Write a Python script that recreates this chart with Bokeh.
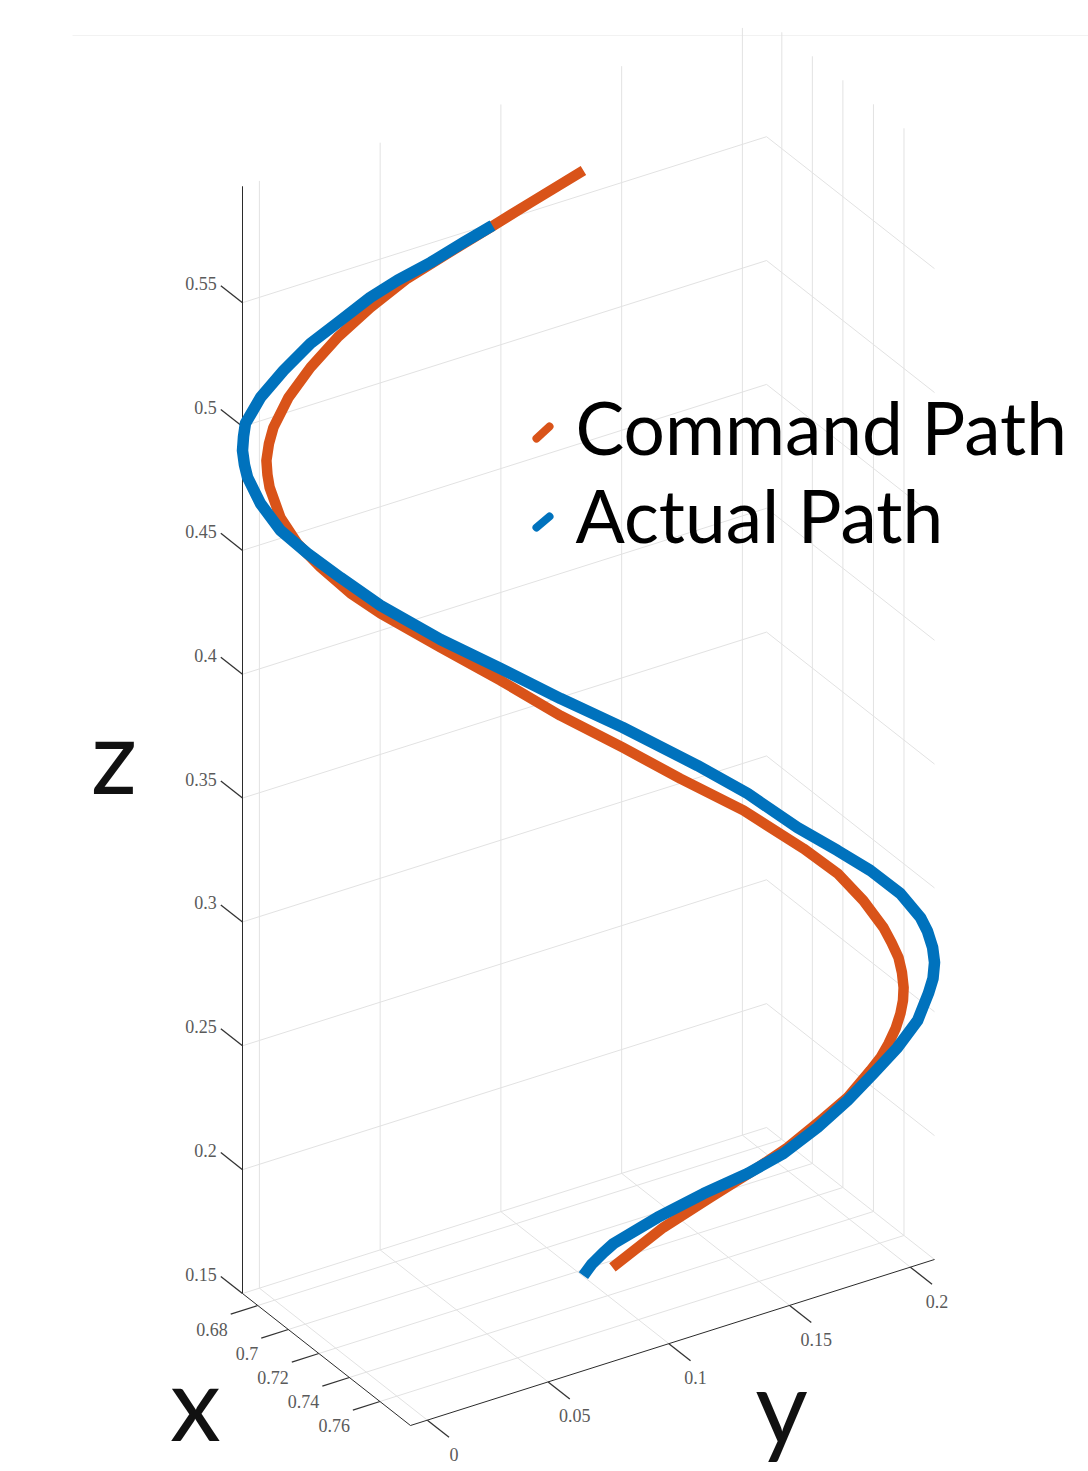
import numpy as np
from bokeh.plotting import figure
from bokeh.models import Range1d
from bokeh.core.properties import value
from bokeh.embed import file_html
from bokeh.resources import INLINE

# ---------------- data (3-D paths) ----------------
cmd_x = [0.7242, 0.7158, 0.7099, 0.7026, 0.6962, 0.6903, 0.6851, 0.6808, 0.6773, 0.6749,
         0.6742, 0.6738, 0.6740, 0.6743, 0.6760, 0.6787, 0.6824, 0.6872, 0.6919, 0.7015,
         0.7110, 0.7206, 0.7304, 0.7396, 0.7496, 0.7592, 0.7646, 0.7687, 0.7719, 0.7732,
         0.7743, 0.7748, 0.7751, 0.7750, 0.7746, 0.7738, 0.7727, 0.7714, 0.7698, 0.7662,
         0.7619, 0.7566, 0.7512, 0.7444, 0.7369, 0.7288]
cmd_y = [0.0999, 0.0833, 0.0717, 0.0573, 0.0447, 0.0331, 0.0228, 0.0143, 0.0074, 0.0027,
         0.0013, 0.0005, 0.0008, 0.0015, 0.0049, 0.0102, 0.0175, 0.0269, 0.0363, 0.0551,
         0.0739, 0.0927, 0.1122, 0.1303, 0.1501, 0.1689, 0.1796, 0.1877, 0.1940, 0.1965,
         0.1987, 0.1998, 0.2003, 0.2001, 0.1993, 0.1978, 0.1956, 0.1931, 0.1899, 0.1827,
         0.1743, 0.1639, 0.1532, 0.1398, 0.1250, 0.1090]
cmd_z = [0.5966, 0.5847, 0.5762, 0.5658, 0.5565, 0.5455, 0.5341, 0.5225, 0.5108, 0.4990,
         0.4926, 0.4858, 0.4801, 0.4749, 0.4625, 0.4517, 0.4416, 0.4305, 0.4218, 0.4069,
         0.3924, 0.3770, 0.3629, 0.3492, 0.3351, 0.3185, 0.3078, 0.2963, 0.2850, 0.2788,
         0.2726, 0.2665, 0.2604, 0.2552, 0.2500, 0.2440, 0.2381, 0.2326, 0.2276, 0.2171,
         0.2084, 0.1981, 0.1895, 0.1795, 0.1683, 0.1532]

act_x = [0.7097, 0.7051, 0.6999, 0.6946, 0.6903, 0.6856, 0.6808, 0.6765, 0.6729, 0.6705,
         0.6702, 0.6700, 0.6703, 0.6708, 0.6729, 0.6760, 0.6803, 0.6856, 0.6919, 0.7015,
         0.7110, 0.7206, 0.7304, 0.7423, 0.7503, 0.7582, 0.7646, 0.7698, 0.7746, 0.7778,
         0.7789, 0.7797, 0.7800, 0.7798, 0.7790, 0.7773, 0.7741, 0.7703, 0.7662, 0.7614,
         0.7560, 0.7503, 0.7433, 0.7360, 0.7290, 0.7274, 0.7255, 0.7242]
act_y = [0.0714, 0.0623, 0.0520, 0.0416, 0.0331, 0.0237, 0.0143, 0.0059, -0.0014, -0.0061,
         -0.0067, -0.0070, -0.0064, -0.0054, -0.0014, 0.0049, 0.0134, 0.0237, 0.0363, 0.0551,
         0.0739, 0.0927, 0.1122, 0.1357, 0.1514, 0.1670, 0.1796, 0.1899, 0.1993, 0.2056,
         0.2078, 0.2094, 0.2100, 0.2095, 0.2081, 0.2047, 0.1984, 0.1909, 0.1827, 0.1733,
         0.1626, 0.1514, 0.1376, 0.1231, 0.1093, 0.1062, 0.1024, 0.0999]
act_z = [0.5762, 0.5699, 0.5625, 0.5559, 0.5496, 0.5409, 0.5322, 0.5218, 0.5114, 0.5012,
         0.4960, 0.4903, 0.4846, 0.4793, 0.4686, 0.4573, 0.4475, 0.4371, 0.4250, 0.4101,
         0.3972, 0.3839, 0.3710, 0.3541, 0.3418, 0.3271, 0.3170, 0.3083, 0.2984, 0.2883,
         0.2826, 0.2760, 0.2699, 0.2635, 0.2575, 0.2468, 0.2363, 0.2263, 0.2159, 0.2056,
         0.1958, 0.1884, 0.1812, 0.1725, 0.1628, 0.1594, 0.1548, 0.1505]

series_names = ["Command Path", "Actual Path"]

x_ticks = [0.68, 0.70, 0.72, 0.74, 0.76]
x_tick_labels = ["0.68", "0.7", "0.72", "0.74", "0.76"]
y_ticks = [0.0, 0.05, 0.10, 0.15, 0.20]
y_tick_labels = ["0", "0.05", "0.1", "0.15", "0.2"]
z_ticks = [0.15, 0.20, 0.25, 0.30, 0.35, 0.40, 0.45, 0.50, 0.55]
z_tick_labels = ["0.15", "0.2", "0.25", "0.3", "0.35", "0.4", "0.45", "0.5", "0.55"]

x_lim = (0.67, 0.78)
y_lim = (-0.007, 0.21)
z_lim = (0.15, 0.597)

# ---------------- camera (orthographic view) ----------------
ORIGIN = (242.0, 1293.0)
EX = (1527.0, 1200.0)
EY = (2415.0, -765.0)
EZ = (0.0, -2477.0)


def proj(x, y, z):
    dx = np.asarray(x, float) - x_lim[0]
    dy = np.asarray(y, float) - y_lim[0]
    dz = np.asarray(z, float) - z_lim[0]
    sx = ORIGIN[0] + dx * EX[0] + dy * EY[0] + dz * EZ[0]
    sy = ORIGIN[1] + dx * EX[1] + dy * EY[1] + dz * EZ[1]
    return sx, sy


def seg3(p0, p1):
    a = proj(*p0)
    b = proj(*p1)
    return [float(a[0]), float(b[0])], [float(a[1]), float(b[1])]


W, H = 1088, 1471
p = figure(width=W, height=H, x_range=Range1d(0, W), y_range=Range1d(H, 0),
           output_backend="svg", toolbar_location=None, x_axis_type=None, y_axis_type=None,
           min_border=0, min_border_left=0, min_border_right=0, min_border_top=0,
           min_border_bottom=0)
p.outline_line_color = None
p.background_fill_color = "white"
p.border_fill_color = "white"

x0, x1 = x_lim
y0, y1 = y_lim
z0, z1 = z_lim

# faint frame line at the top
p.line(x=[72, 1088], y=[35, 35], line_color="#f2f2f2", line_width=1)

# ---------------- grid on back planes ----------------
gx, gy = [], []
def add(p0, p1):
    a, b = seg3(p0, p1)
    gx.append(a)
    gy.append(b)

for xt in x_ticks:
    add((xt, y0, z0), (xt, y1, z0))          # floor
    add((xt, y1, z0), (xt, y1, z1))          # wall y = ymax
for yt in y_ticks:
    add((x0, yt, z0), (x1, yt, z0))          # floor
    add((x0, yt, z0), (x0, yt, z1))          # wall x = xmin
for zt in z_ticks:
    add((x0, y0, zt), (x0, y1, zt))          # wall x = xmin
    add((x0, y1, zt), (x1, y1, zt))          # wall y = ymax
p.multi_line(xs=gx, ys=gy, line_color="#e2e2e2", line_width=1)

# ---------------- axes lines ----------------
ax_x, ax_y = [], []
for a0, a1 in [((x0, y0, z0), (x0, y0, z1)),
               ((x0, y0, z0), (x1, y0, z0)),
               ((x1, y0, z0), (x1, y1, z0))]:
    a, b = seg3(a0, a1)
    ax_x.append(a)
    ax_y.append(b)
p.multi_line(xs=ax_x, ys=ax_y, line_color="#2b2b2b", line_width=1)

# ticks
TX = 0.0142
TY = 0.0112
tk_x, tk_y = [], []
zl_x, zl_y = [], []
for zt in z_ticks:
    a, b = seg3((x0, y0, zt), (x0 - TX, y0, zt))
    tk_x.append(a); tk_y.append(b)
    zl_x.append(a[1] - 4); zl_y.append(b[1] - 2)
xl_x, xl_y = [], []
for xt in x_ticks:
    a, b = seg3((xt, y0, z0), (xt, y0 - TY, z0))
    tk_x.append(a); tk_y.append(b)
    xl_x.append(a[1] - 3); xl_y.append(b[1] + 15)
yl_x, yl_y = [], []
for yt in y_ticks:
    a, b = seg3((x1, yt, z0), (x1 + TX, yt, z0))
    tk_x.append(a); tk_y.append(b)
    yl_x.append(a[1] + 5); yl_y.append(b[1] + 17)
p.multi_line(xs=tk_x, ys=tk_y, line_color="#333333", line_width=1.3)

lab_font = value("Liberation Serif")
lab_size = value("18px")
lab_col = "#5a5a5a"
p.text(x=zl_x, y=zl_y, text=z_tick_labels, text_font=lab_font, text_font_size=lab_size,
       text_color=lab_col, text_align=value("right"), text_baseline=value("middle"))
p.text(x=xl_x, y=xl_y, text=x_tick_labels, text_font=lab_font, text_font_size=lab_size,
       text_color=lab_col, text_align=value("right"), text_baseline=value("middle"))
p.text(x=yl_x, y=yl_y, text=y_tick_labels, text_font=lab_font, text_font_size=lab_size,
       text_color=lab_col, text_align=value("center"), text_baseline=value("middle"))

# axis titles
big = value("Lato")
p.text(x=[113.5, 195, 781], y=[754, 1401, 1404], text=["z", "x", "y"], text_font=big,
       text_font_size=value("102px"), text_color="#111111", text_align=value("center"),
       text_baseline=value("alphabetic"))

# ---------------- paths ----------------
ORANGE = "#D95319"
BLUE = "#0072BD"
cx, cy = proj(cmd_x, cmd_y, cmd_z)
axx, ayy = proj(act_x, act_y, act_z)
p.line(x=cx, y=cy, line_color=ORANGE, line_width=10.5, line_join="round", line_cap="butt")
p.line(x=axx, y=ayy, line_color=BLUE, line_width=11.5, line_join="round", line_cap="butt")

# ---------------- legend ----------------
p.segment(x0=[536, 536], y0=[438, 527], x1=[549, 549], y1=[426, 516],
          line_color=[ORANGE, BLUE], line_width=8, line_cap="round")
p.text(x=[575, 575], y=[426, 514], text=series_names, text_font=big,
       text_font_size=value("73px"), text_color="#000000", text_align=value("left"),
       text_baseline=value("alphabetic"))

open("out.html", "w").write(file_html(p, INLINE))
